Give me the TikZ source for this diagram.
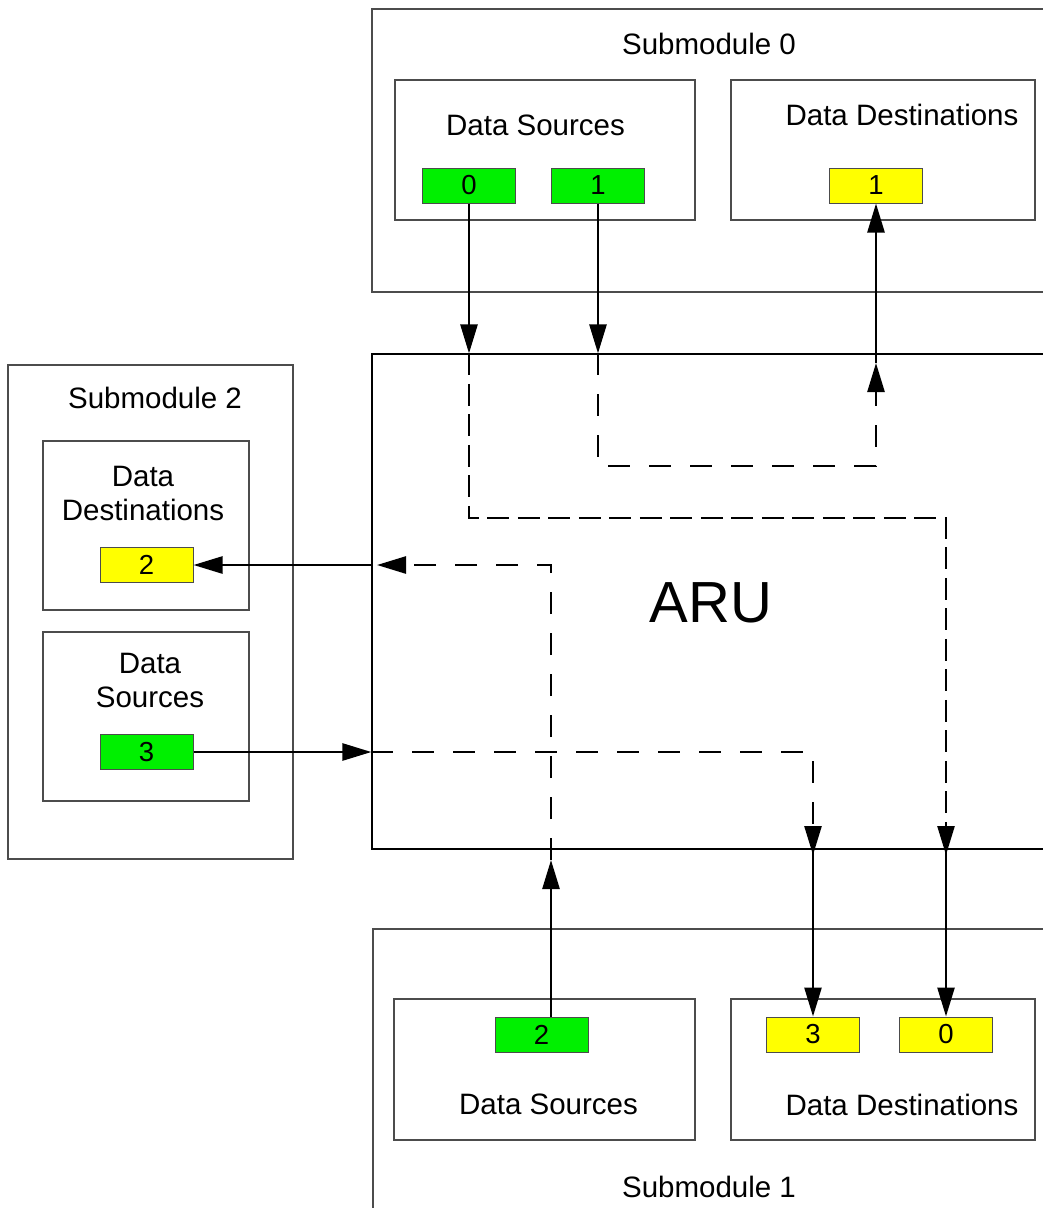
\documentclass[tikz,border=0pt]{standalone}
\usepackage{fontspec}
\setmainfont{Liberation Sans}
\usetikzlibrary{arrows.meta,calc}
\definecolor{srcgreen}{RGB}{0,240,0}
\definecolor{dstyellow}{RGB}{255,255,0}
\newcommand{\lblfont}{\fontsize{29.5}{34}\selectfont}
\newcommand{\numfont}{\fontsize{27.5}{32}\selectfont}
\newcommand{\arufont}{\fontsize{58}{66}\selectfont}
\begin{document}
\begin{tikzpicture}[x=1pt,y=-1pt,
  outerbox/.style={draw=black!70, line width=1.3pt, rectangle, inner sep=0pt},
  innerbox/.style={draw=black!70, line width=1.3pt, rectangle, inner sep=0pt},
  arubox/.style={draw=black, line width=1.2pt, rectangle, inner sep=0pt},
  srcbox/.style={draw=black!70, line width=1pt, fill=srcgreen, rectangle, inner sep=0pt,
    minimum width=93pt, minimum height=35pt, font=\numfont},
  dstbox/.style={draw=black!70, line width=1pt, fill=dstyellow, rectangle, inner sep=0pt,
    minimum width=93pt, minimum height=35pt, font=\numfont},
  lbl/.style={anchor=base, inner sep=0pt, font=\lblfont},
  conn/.style={line width=2.6pt, -{Triangle[length=29pt,width=17pt]}},
  dashA/.style={conn, dash pattern=on 22pt off 8.5pt},
  dashB/.style={conn, dash pattern=on 22pt off 19pt}]
\clip (0,0) rectangle (1043,1208);
\fill[white] (0,0) rectangle (1043,1208);

% ---- Submodule 0
\node[outerbox, minimum width=728pt, minimum height=283pt] (sm0) at (736,150.5) {};
\node[lbl] (sm0t) at (709,54.6) {Submodule 0};
\node[innerbox, minimum width=300pt, minimum height=140pt] (sm0ds) at (545,150) {};
\node[lbl] (sm0dst) at (535.5,135.6) {Data Sources};
\node[innerbox, minimum width=304pt, minimum height=140pt] (sm0dd) at (883,150) {};
\node[lbl] (sm0ddt) at (902,125.6) {Data Destinations};
\node[srcbox] (src0) at (469,185.5) {0};
\node[srcbox] (src1) at (598,185.5) {1};
\node[dstbox] (dst1) at (876,185.5) {1};

% ---- ARU
\node[arubox, minimum width=728pt, minimum height=495pt] (aru) at (736,601.5) {};
\node[anchor=base, inner sep=0pt, font=\arufont] (arut) at (711,622.7) {ARU};

% ---- Submodule 2
\node[outerbox, minimum width=285pt, minimum height=494pt] (sm2) at (150.5,612) {};
\node[lbl] (sm2t) at (155,408.6) {Submodule 2};
\node[innerbox, minimum width=206pt, minimum height=169pt] (sm2dd) at (146,525.5) {};
\node[lbl] (sm2ddt1) at (143,486.6) {Data};
\node[lbl] (sm2ddt2) at (143,520.6) {Destinations};
\node[dstbox] (dst2) at (146.5,565) {2};
\node[innerbox, minimum width=206pt, minimum height=169pt] (sm2ds) at (146,716.5) {};
\node[lbl] (sm2dst1) at (150,673.6) {Data};
\node[lbl] (sm2dst2) at (150,707.6) {Sources};
\node[srcbox] (src3) at (146.5,752) {3};

% ---- Submodule 1
\node[outerbox, minimum width=727pt, minimum height=371pt] (sm1) at (736.5,1114.5) {};
\node[lbl] (sm1t) at (709,1197.6) {Submodule 1};
\node[innerbox, minimum width=301pt, minimum height=141pt] (sm1ds) at (544.5,1069.5) {};
\node[lbl] (sm1dst) at (548.5,1114.6) {Data Sources};
\node[innerbox, minimum width=304pt, minimum height=141pt] (sm1dd) at (883,1069.5) {};
\node[lbl] (sm1ddt) at (902,1115.6) {Data Destinations};
\node[srcbox] (src2) at (541.5,1034.5) {2};
\node[dstbox] (dst3) at (813,1034.5) {3};
\node[dstbox] (dst0) at (946,1034.5) {0};

% ---- connectors
% source 0 -> destination 0
\coordinate (p0a) at (469,518);
\coordinate (p0b) at (946,518);
\coordinate (p0c) at (946,855);
\draw[conn] (src0.south) -- (src0.south |- aru.north);
\draw[dashA] (src0.south |- aru.north) -- (p0a) -- (p0b) -- (p0c);
\draw[conn] (dst0.north |- aru.south) -- (dst0.north);

% source 1 -> destination 1
\coordinate (p1a) at (598,466);
\coordinate (p1b) at (876,466);
\coordinate (p1c) at (876,363);
\draw[conn] (src1.south) -- (src1.south |- aru.north);
\draw[dashB] (src1.south |- aru.north) -- (p1a) -- (p1b) -- (p1c);
\draw[conn] (p1c) -- (dst1.south);

% source 2 -> destination 2
\coordinate (s2) at ($(src2.north)+(9.5,0)$);
\coordinate (p2a) at (551,860);
\coordinate (p2b) at (551,565);
\coordinate (p2c) at (377,565);
\draw[conn] (s2) -- (p2a);
\draw[dashB] (p2a) -- (p2b) -- (p2c);
\draw[conn] (aru.west |- p2c) -- (dst2.east);

% source 3 -> destination 3
\coordinate (p3a) at (813,752);
\coordinate (p3b) at (813,855);
\draw[conn] (src3.east) -- (aru.west |- src3.east);
\draw[dashB] (aru.west |- src3.east) -- (p3a) -- (p3b);
\draw[conn] (dst3.north |- aru.south) -- (dst3.north);
\end{tikzpicture}
\end{document}
